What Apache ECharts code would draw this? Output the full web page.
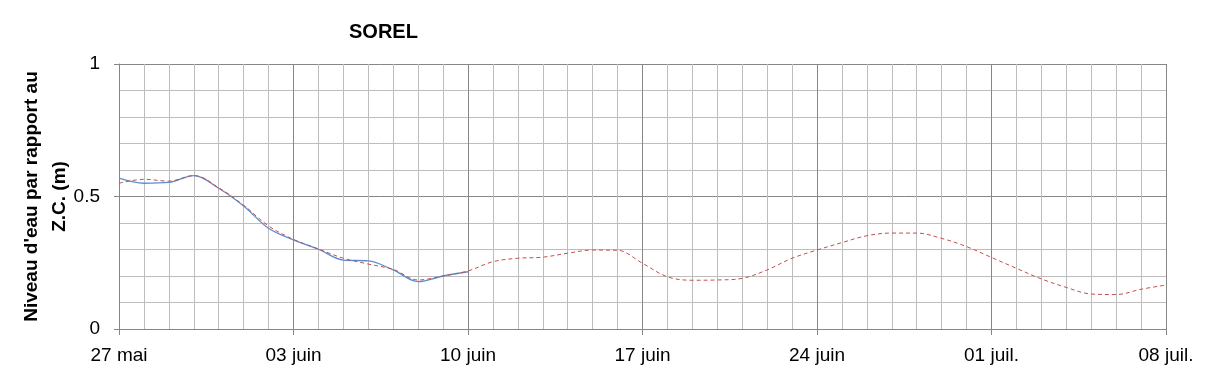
<!DOCTYPE html>
<html><head><meta charset="utf-8">
<script src="https://cdn.jsdelivr.net/npm/echarts@6/dist/echarts.min.js"></script>
<style>html,body{margin:0;padding:0;background:#fff}#c{width:1209px;height:378px}</style>
</head><body><div id="c"></div>
<script>
const dates = ['27 mai','28 mai','29 mai','30 mai','31 mai',
'01 juin','02 juin','03 juin','04 juin','05 juin','06 juin','07 juin','08 juin','09 juin','10 juin',
'11 juin','12 juin','13 juin','14 juin','15 juin','16 juin','17 juin','18 juin','19 juin','20 juin',
'21 juin','22 juin','23 juin','24 juin','25 juin','26 juin','27 juin','28 juin','29 juin','30 juin',
'01 juil.','02 juil.','03 juil.','04 juil.','05 juil.','06 juil.','07 juil.','08 juil.'];
const observed = [0.569,0.550,0.553,0.579,0.531,0.464,0.380,0.336,0.301,0.260,0.257,0.223,0.179,0.200,0.216];
const predicted = [0.550,0.565,0.558,0.579,0.533,0.467,0.389,0.338,0.302,0.267,0.245,0.225,0.185,0.200,0.219,
0.254,0.267,0.271,0.286,0.298,0.297,0.248,0.197,0.184,0.185,0.191,0.223,0.267,
0.298,0.326,0.352,0.362,0.362,0.342,0.311,0.270,0.229,0.189,0.157,0.132,0.130,0.150,0.166];
const yTicks = {0:'0',0.5:'0.5',1:'1'};
const FONT = '"Liberation Sans", Arial, sans-serif';
const light = '#bdbdbd', dark = '#868686';
const xGridColors = [dark, light, light, light, light, light, light];

const chart = echarts.init(document.getElementById('c'));
chart.setOption({
  animation: false,
  title: {text: 'SOREL', left: 344, top: 17, textStyle: {fontFamily: FONT, fontSize: 20, fontWeight: 'bold', color: '#000'}},
  grid: {left: 119, right: 43, top: 64, bottom: 49, containLabel: false, outerBoundsMode: 'none'},
  xAxis: {
    type: 'category', data: dates, boundaryGap: false,
    axisLine: {lineStyle: {color: dark, width: 1}},
    axisTick: {show: true, interval: 6, length: 6, lineStyle: {color: dark}},
    axisLabel: {interval: 6, margin: 17, fontFamily: FONT, fontSize: 19, color: '#000'},
    splitLine: {show: true, interval: 0, lineStyle: {color: xGridColors, width: 1}}
  },
  yAxis: {
    type: 'value', min: 0, max: 1, interval: 0.5,
    name: "Niveau d'eau par rapport au\nZ.C. (m)", nameLocation: 'middle', nameGap: 45, nameRotate: 90,
    nameMoveOverlap: false,
    nameTextStyle: {fontFamily: FONT, fontSize: 19, fontWeight: 'bold', color: '#000', lineHeight: 28},
    axisLine: {show: true, lineStyle: {color: dark}},
    axisTick: {show: true, length: 5, lineStyle: {color: dark}},
    axisLabel: {margin: 19, fontFamily: FONT, fontSize: 19, color: '#000', formatter: v => yTicks[v] ?? ''},
    splitLine: {show: true, lineStyle: {color: dark, width: 1}},
    minorTick: {show: false, splitNumber: 5},
    minorSplitLine: {show: true, lineStyle: {color: light, width: 1}}
  },
  series: [
    {type: 'line', data: observed, smooth: 0.35, showSymbol: false, symbol: 'none',
     lineStyle: {color: '#5b8ed0', width: 1.3}, z: 3},
    {type: 'line', data: predicted, smooth: 0.35, showSymbol: false, symbol: 'none',
     lineStyle: {color: '#c0504d', width: 1, type: [4, 3]}, z: 4}
  ]
});
</script></body></html>
